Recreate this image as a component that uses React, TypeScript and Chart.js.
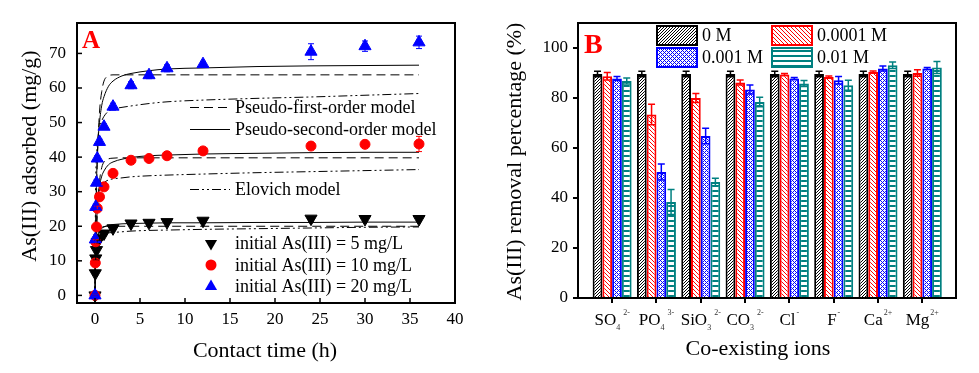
import React, { useEffect, useRef } from 'react';
import { Chart, registerables } from 'chart.js';
Chart.register(...registerables);

const FONT = '"Liberation Serif", "Times New Roman", serif';

// ---------------- Panel A data ----------------
const timeH = [0, 0.033, 0.083, 0.167, 0.25, 0.5, 1, 2, 4, 6, 8, 12, 24, 30, 36];
const q5 = [0, 6.4, 10.7, 13.1, 15.5, 16.5, 17.9, 19.4, 20.8, 21, 21.2, 21.6, 22.2, 22.1, 22.1];
const q10 = [0, 9.4, 15.5, 19.8, 25.2, 28.5, 31.4, 35.3, 39.1, 39.6, 40.4, 41.8, 43.2, 43.7, 43.8];
const q20 = [0, 16.2, 25.6, 32.6, 39.6, 44.4, 48.8, 54.6, 60.8, 63.7, 65.7, 66.9, 70.5, 72.1, 73.2];
const err5 = [0.3, 0.5, 0.5, 0.5, 0.5, 0.5, 0.5, 0.6, 0.6, 0.5, 0.5, 0.5, 0.6, 0.6, 0.6];
const err10 = [0.3, 0.6, 0.6, 0.6, 0.6, 0.6, 0.6, 0.6, 0.6, 0.6, 0.6, 0.6, 0.8, 1.0, 2.2];
const err20 = [0.3, 0.8, 0.8, 0.8, 0.8, 0.8, 0.8, 1.0, 1.0, 1.0, 1.0, 0.8, 2.3, 1.5, 1.8];

const curveT = [0, 0.05, 0.1, 0.2, 0.3, 0.5, 0.75, 1, 1.5, 2, 3, 4, 6, 8, 12, 18, 24, 30, 36];
const pfo5 = [0, 6, 10, 15, 17.3, 19, 19.7, 19.9, 20, 20, 20, 20, 20, 20, 20, 20, 20, 20, 20];
const pso5 = [0, 8, 12, 15.5, 17, 18.5, 19.4, 19.8, 20.3, 20.5, 20.7, 20.8, 20.9, 21, 21, 21.1, 21.1, 21.2, 21.2];
const elo5 = [0, 11, 13.5, 15.5, 16.3, 17, 17.5, 17.8, 18.1, 18.2, 18.4, 18.6, 18.8, 18.9, 19.1, 19.3, 19.5, 19.7, 19.8];
const pfo10 = [0, 6, 11.5, 20, 26, 33, 37, 38.6, 39.5, 39.7, 39.8, 39.8, 39.8, 39.8, 39.8, 39.8, 39.8, 39.8, 39.8];
const pso10 = [0, 9, 15, 22, 26.5, 31.5, 34.5, 36, 37.8, 38.6, 39.4, 39.9, 40.4, 40.6, 40.9, 41.1, 41.3, 41.4, 41.4];
const elo10 = [0, 17, 22, 26.5, 28.5, 30.5, 31.8, 32.6, 33.4, 33.7, 34, 34.3, 34.6, 34.8, 35.1, 35.5, 35.8, 36.1, 36.4];
const pfo20 = [0, 10.5, 19, 33, 42, 53, 59, 62, 63.5, 63.8, 63.8, 63.8, 63.8, 63.8, 63.8, 63.8, 63.8, 63.8, 63.8];
const pso20 = [0, 15, 25, 36, 43, 50, 55, 57.5, 60.5, 62, 63.5, 64.2, 65, 65.5, 65.8, 66.2, 66.4, 66.5, 66.6];
const elo20 = [0, 28, 36, 42, 45, 48.5, 50.5, 51.8, 53.3, 53.9, 54.4, 54.8, 55.5, 56, 56.5, 57, 57.4, 57.9, 58.4];

const xTicksA = [0, 5, 10, 15, 20, 25, 30, 35, 40];
const yTicksA = [0, 10, 20, 30, 40, 50, 60, 70];
const modelNames = ['Pseudo-first-order model', 'Pseudo-second-order model', 'Elovich model'];
const seriesNamesA = ['initial As(III) = 5 mg/L', 'initial As(III) = 10 mg/L', 'initial As(III) = 20 mg/L'];

// ---------------- Panel B data ----------------
const ionBase = ['SO', 'PO', 'SiO', 'CO', 'Cl', 'F', 'Ca', 'Mg'];
const ionSub = ['4', '4', '3', '3', '', '', '', ''];
const ionSup = ['2-', '3-', '2-', '2-', '-', '-', '2+', '2+'];
const concNames = ['0 M', '0.0001 M', '0.001 M', '0.01 M'];
const rem0 = [89.6, 89.6, 89.6, 89.6, 89.6, 89.6, 89.6, 89.6];
const rem1e4 = [88.7, 73.4, 80.0, 86.2, 89.4, 88.4, 90.4, 90.0];
const rem1e3 = [87.8, 50.4, 64.8, 83.4, 87.8, 87.1, 91.8, 91.8];
const rem1e2 = [86.8, 38.4, 46.4, 78.4, 85.8, 85.1, 93.1, 92.2];
const errR0 = [1.1, 1.1, 1.1, 1.1, 1.1, 1.1, 1.1, 1.1];
const errR1e4 = [1.5, 4.1, 1.8, 1.0, 0.4, 0.4, 0.4, 1.3];
const errR1e3 = [0.8, 3.2, 3.1, 1.8, 0.4, 1.5, 1.0, 0.4];
const errR1e2 = [1.2, 5.0, 1.5, 1.9, 1.2, 2.0, 1.3, 2.4];
const yTicksB = [0, 20, 40, 60, 80, 100];

const BLACK = '#000000';
const RED = '#ff0000';
const BLUE = '#0000ff';
const TEAL = '#008080';

function makePattern(kind: string, color: string): CanvasPattern {
  const c = document.createElement('canvas');
  const s = kind === 'horiz' ? 5 : kind === 'fwd' ? 3 : 4;
  c.width = s;
  c.height = s;
  const g = c.getContext('2d') as CanvasRenderingContext2D;
  g.fillStyle = '#ffffff';
  g.fillRect(0, 0, s, s);
  g.fillStyle = color;
  for (let x = 0; x < s; x++) {
    for (let y = 0; y < s; y++) {
      let on = false;
      if (kind === 'fwd') on = (x + y) % s === 0;
      else if (kind === 'back') on = ((x - y) % s + s) % s === 0;
      else if (kind === 'cross') on = (x + y) % 4 === 0 || ((x - y) % 4 + 4) % 4 === 0;
      else if (kind === 'horiz') on = y < 2;
      if (on) g.fillRect(x, y, 1, 1);
    }
  }
  return g.createPattern(c, 'repeat') as CanvasPattern;
}

function line(ctx: CanvasRenderingContext2D, x1: number, y1: number, x2: number, y2: number) {
  ctx.beginPath();
  ctx.moveTo(x1, y1);
  ctx.lineTo(x2, y2);
  ctx.stroke();
}

function marker(ctx: CanvasRenderingContext2D, kind: string, x: number, y: number, color: string) {
  ctx.fillStyle = color;
  ctx.beginPath();
  if (kind === 'circle') {
    ctx.arc(x, y, 5.5, 0, Math.PI * 2);
  } else {
    const r = 7;
    const d = kind === 'down' ? -1 : 1;
    ctx.moveTo(x, y - d * r);
    ctx.lineTo(x + r * 0.866, y + d * r * 0.5);
    ctx.lineTo(x - r * 0.866, y + d * r * 0.5);
    ctx.closePath();
  }
  ctx.fill();
}

const PFO_DASH = [9, 5];
const ELO_DASH = [9, 3, 2, 3, 2, 3];

function PanelA() {
  const ref = useRef<HTMLCanvasElement>(null);
  useEffect(() => {
    const mk = (t: number[], v: number[]) => t.map((x, i) => ({ x, y: v[i] }));
    const curve = (vals: number[], dash: number[]) => ({
      data: mk(curveT, vals),
      showLine: true,
      pointRadius: 0,
      borderColor: BLACK,
      borderWidth: 1,
      borderDash: dash,
      cubicInterpolationMode: 'monotone',
      fill: false,
      order: 5,
    });
    const pts = (vals: number[], color: string, style: string, rot: number, r: number, order: number) => ({
      data: mk(timeH, vals),
      showLine: false,
      pointStyle: style,
      pointRotation: rot,
      pointRadius: r,
      pointBackgroundColor: color,
      pointBorderColor: color,
      pointBorderWidth: 1,
      order,
    });
    const markerSets = [
      { vals: q5, err: err5, color: BLACK },
      { vals: q10, err: err10, color: RED },
      { vals: q20, err: err20, color: BLUE },
    ];
    const plugin = {
      id: 'panelA',
      afterDatasetsDraw(chart: any) {
        const { ctx, scales } = chart;
        ctx.save();
        ctx.lineWidth = 1;
        markerSets.forEach((m) => {
          ctx.strokeStyle = m.color;
          m.vals.forEach((v, i) => {
            const px = scales.x.getPixelForValue(timeH[i]);
            const y1 = scales.y.getPixelForValue(v - m.err[i]);
            const y2 = scales.y.getPixelForValue(v + m.err[i]);
            line(ctx, px, y1, px, y2);
            line(ctx, px - 3, y1, px + 3, y1);
            line(ctx, px - 3, y2, px + 3, y2);
          });
        });
        ctx.restore();
      },
      afterDraw(chart: any) {
        const { ctx, chartArea: ca, scales } = chart;
        ctx.save();
        ctx.strokeStyle = BLACK;
        ctx.lineWidth = 2;
        ctx.strokeRect(ca.left, ca.top, ca.right - ca.left, ca.bottom - ca.top);
        ctx.lineWidth = 1.5;
        xTicksA.forEach((v) => {
          const px = scales.x.getPixelForValue(v);
          line(ctx, px, ca.bottom, px, ca.bottom - 5);
        });
        yTicksA.forEach((v) => {
          const py = scales.y.getPixelForValue(v);
          line(ctx, ca.left, py, ca.left + 5, py);
        });
        // panel label
        ctx.fillStyle = RED;
        ctx.font = `bold 25px ${FONT}`;
        ctx.textAlign = 'left';
        ctx.textBaseline = 'alphabetic';
        ctx.fillText('A', ca.left + 5, ca.top + 25);
        // model legend
        ctx.font = `18px ${FONT}`;
        ctx.textBaseline = 'middle';
        const dashes = [PFO_DASH, [], ELO_DASH];
        const ly = [84.5, 106.5, 166.5];
        modelNames.forEach((n, i) => {
          ctx.strokeStyle = BLACK;
          ctx.lineWidth = 1;
          ctx.setLineDash(dashes[i]);
          line(ctx, ca.left + 113, ca.top + ly[i], ca.left + 153, ca.top + ly[i]);
          ctx.setLineDash([]);
          ctx.fillStyle = BLACK;
          ctx.fillText(n, ca.left + 158, ca.top + ly[i] + 1);
        });
        // marker legend
        const kinds = ['down', 'circle', 'up'];
        const colors = [BLACK, RED, BLUE];
        const my = [220.5, 242, 263.5];
        seriesNamesA.forEach((n, i) => {
          marker(ctx, kinds[i], ca.left + 134, ca.top + my[i], colors[i]);
          ctx.fillStyle = BLACK;
          ctx.fillText(n, ca.left + 158, ca.top + my[i] + 1);
        });
        // axis titles
        ctx.font = `22px ${FONT}`;
        ctx.textAlign = 'center';
        ctx.fillStyle = BLACK;
        ctx.fillText('Contact time (h)', (ca.left + ca.right) / 2 - 1, ca.bottom + 48);
        ctx.translate(ca.left - 47, (ca.top + ca.bottom) / 2 - 7);
        ctx.rotate(-Math.PI / 2);
        ctx.fillText('As(III) adsorbed (mg/g)', 0, 0);
        ctx.restore();
      },
    };
    const chart = new Chart(ref.current as HTMLCanvasElement, {
      type: 'scatter',
      data: {
        datasets: [
          pts(q20, BLUE, 'triangle', 0, 7, 0),
          pts(q10, RED, 'circle', 0, 5, 1),
          pts(q5, BLACK, 'triangle', 180, 7, 2),
          curve(pfo20, PFO_DASH), curve(pso20, []), curve(elo20, ELO_DASH),
          curve(pfo10, PFO_DASH), curve(pso10, []), curve(elo10, ELO_DASH),
          curve(pfo5, PFO_DASH), curve(pso5, []), curve(elo5, ELO_DASH),
        ] as any,
      },
      options: {
        animation: false,
        responsive: false,
        layout: { padding: { top: 23, right: 25, left: 0, bottom: 0 } },
        plugins: { legend: { display: false }, tooltip: { enabled: false } },
        scales: {
          x: {
            type: 'linear',
            min: -2,
            max: 40,
            afterBuildTicks: (s: any) => { s.ticks = xTicksA.map((v) => ({ value: v })); },
            afterFit: (s: any) => { s.height = 70; },
            grid: { display: false, drawTicks: false },
            border: { display: false },
            ticks: { font: { family: FONT, size: 17 }, color: BLACK, padding: 6, maxRotation: 0, autoSkip: false },
          },
          y: {
            type: 'linear',
            min: -2.2,
            max: 78.8,
            afterBuildTicks: (s: any) => { s.ticks = yTicksA.map((v) => ({ value: v })); },
            afterFit: (s: any) => { s.width = 77; },
            grid: { display: false, drawTicks: false },
            border: { display: false },
            ticks: { font: { family: FONT, size: 17 }, color: BLACK, padding: 11, autoSkip: false },
          },
        },
      } as any,
      plugins: [plugin],
    });
    return () => chart.destroy();
  }, []);
  return <canvas ref={ref} width={480} height={373} style={{ position: 'absolute', left: 0, top: 0, width: 480, height: 373 }} />;
}

function PanelB() {
  const ref = useRef<HTMLCanvasElement>(null);
  useEffect(() => {
    const patterns = [
      makePattern('fwd', BLACK),
      makePattern('back', RED),
      makePattern('cross', BLUE),
      makePattern('horiz', TEAL),
    ];
    const colors = [BLACK, RED, BLUE, TEAL];
    const vals = [rem0, rem1e4, rem1e3, rem1e2];
    const errs = [errR0, errR1e4, errR1e3, errR1e2];
    const plugin = {
      id: 'panelB',
      afterDatasetsDraw(chart: any) {
        const { ctx, scales } = chart;
        ctx.save();
        ctx.lineWidth = 1.5;
        vals.forEach((vs, k) => {
          const meta = chart.getDatasetMeta(k);
          ctx.strokeStyle = colors[k];
          vs.forEach((v, i) => {
            const bar = meta.data[i];
            const px = bar.x;
            const y1 = scales.y.getPixelForValue(v - errs[k][i]);
            const y2 = scales.y.getPixelForValue(v + errs[k][i]);
            line(ctx, px, y1, px, y2);
            line(ctx, px - 3.5, y1, px + 3.5, y1);
            line(ctx, px - 3.5, y2, px + 3.5, y2);
          });
        });
        ctx.restore();
      },
      afterDraw(chart: any) {
        const { ctx, chartArea: ca, scales } = chart;
        ctx.save();
        ctx.strokeStyle = BLACK;
        ctx.lineWidth = 2;
        ctx.strokeRect(ca.left, ca.top, ca.right - ca.left, ca.bottom - ca.top);
        // panel label
        ctx.fillStyle = RED;
        ctx.font = `bold 28px ${FONT}`;
        ctx.textAlign = 'left';
        ctx.textBaseline = 'alphabetic';
        ctx.fillText('B', ca.left + 6, ca.top + 30);
        // legend
        ctx.font = `18px ${FONT}`;
        ctx.textBaseline = 'middle';
        concNames.forEach((n, k) => {
          const col = k % 2;
          const row = Math.floor(k / 2);
          const bx = ca.left + 79 + col * 115;
          const by = ca.top + 3 + row * 22;
          ctx.fillStyle = patterns[k];
          ctx.fillRect(bx, by, 40, 19);
          ctx.strokeStyle = colors[k];
          ctx.lineWidth = 2;
          ctx.strokeRect(bx, by, 40, 19);
          ctx.fillStyle = BLACK;
          ctx.fillText(n, bx + 45, by + 10.5);
        });
        // x tick labels with sub/superscripts
        ctx.textBaseline = 'alphabetic';
        ionBase.forEach((b, i) => {
          const cx = scales.x.getPixelForValue(i + 1);
          ctx.font = `17px ${FONT}`;
          const wb = ctx.measureText(b).width;
          ctx.font = `8px ${FONT}`;
          const ws = ionSub[i] ? ctx.measureText(ionSub[i]).width + 3 : 1;
          const wp = ctx.measureText(ionSup[i]).width;
          const total = wb + ws + wp;
          let x = cx - total / 2;
          const base = ca.bottom + 27;
          ctx.fillStyle = BLACK;
          ctx.font = `17px ${FONT}`;
          ctx.fillText(b, x, base);
          x += wb;
          ctx.font = `8px ${FONT}`;
          ctx.fillStyle = '#333';
          if (ionSub[i]) ctx.fillText(ionSub[i], x, base + 5);
          x += ws;
          ctx.fillText(ionSup[i], x, base - 10);
        });
        // axis titles
        ctx.fillStyle = BLACK;
        ctx.font = `22px ${FONT}`;
        ctx.textAlign = 'center';
        ctx.fillText('Co-existing ions', (ca.left + ca.right) / 2 - 9, ca.bottom + 57);
        ctx.translate(ca.left - 57, (ca.top + ca.bottom) / 2 + 1);
        ctx.rotate(-Math.PI / 2);
        ctx.fillText('As(III) removal percentage (%)', 0, 0);
        ctx.restore();
      },
    };
    const chart = new Chart(ref.current as HTMLCanvasElement, {
      type: 'bar',
      data: {
        datasets: vals.map((vs, k) => ({
          label: concNames[k],
          data: vs.map((v, i) => ({ x: i + 1, y: v })),
          backgroundColor: patterns[k],
          borderColor: colors[k],
          borderWidth: 2,
          borderSkipped: 'bottom',
          categoryPercentage: 0.88,
          barPercentage: 1,
        })) as any,
      },
      options: {
        animation: false,
        responsive: false,
        layout: { padding: { top: 23, right: 23, left: 0, bottom: 0 } },
        plugins: { legend: { display: false }, tooltip: { enabled: false } },
        scales: {
          x: {
            type: 'linear',
            min: 0.23,
            max: 8.76,
            offset: false,
            afterBuildTicks: (s: any) => { s.ticks = ionBase.map((_, i) => ({ value: i + 1 })); },
            afterFit: (s: any) => { s.height = 75; },
            grid: { display: true, drawOnChartArea: false, drawTicks: true, tickLength: 5, color: BLACK, lineWidth: 2, offset: false },
            border: { display: false },
            ticks: { callback: () => '', font: { family: FONT, size: 17 }, autoSkip: false, maxRotation: 0 },
          },
          y: {
            type: 'linear',
            min: 0,
            max: 110,
            afterBuildTicks: (s: any) => { s.ticks = yTicksB.map((v) => ({ value: v })); },
            afterFit: (s: any) => { s.width = 98; },
            grid: { display: true, drawOnChartArea: false, drawTicks: true, tickLength: 5, color: BLACK, lineWidth: 2 },
            border: { display: false },
            ticks: { font: { family: FONT, size: 17 }, color: BLACK, padding: 5, autoSkip: false },
          },
        },
      } as any,
      plugins: [plugin],
    });
    return () => chart.destroy();
  }, []);
  return <canvas ref={ref} width={499} height={373} style={{ position: 'absolute', left: 480, top: 0, width: 499, height: 373 }} />;
}

export default function App() {
  return (
    <div style={{ position: 'fixed', left: 0, top: 0, width: 979, height: 373, background: '#ffffff', overflow: 'hidden' }}>
      <PanelA />
      <PanelB />
    </div>
  );
}
